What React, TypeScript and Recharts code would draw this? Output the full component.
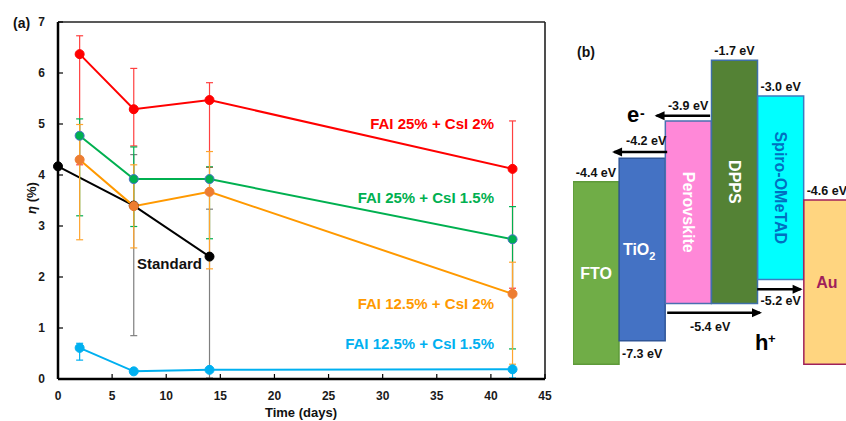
import React from 'react'
import {
  LineChart, Line, XAxis, YAxis, ErrorBar, ReferenceLine,
  BarChart, Bar, Cell, LabelList,
} from 'recharts'

// (a) efficiency vs storage time
const days = [2, 7, 14, 42]
const stdDays = [0, 7, 14]
const xTicks = [0, 5, 10, 15, 20, 25, 30, 35, 40, 45]
const yTicks = [0, 1, 2, 3, 4, 5, 6, 7]

const fai25cs2 = [6.37, 5.29, 5.47, 4.12]
const fai25cs2Low = [4.2, 4.57, 4.15, 1.78]
const fai25cs2High = [6.73, 6.09, 5.81, 5.06]

const fai25cs15 = [4.77, 3.92, 3.92, 2.74]
const fai25cs15Low = [3.2, 2.99, 2.75, 0.59]
const fai25cs15High = [5.1, 4.55, 4.16, 3.38]

const fai125cs2 = [4.3, 3.39, 3.67, 1.67]
const fai125cs2Low = [2.73, 2.57, 2.16, 0.29]
const fai125cs2High = [4.99, 4.2, 4.46, 2.29]

const fai125cs15 = [0.61, 0.15, 0.18, 0.19]
const fai125cs15Low = [0.37, 0.15, 0.18, 0.02]
const fai125cs15High = [0.7, 0.15, 0.18, 0.19]

const standard = [4.17, 3.4, 2.4]
const standardLow = [4.17, 0.85, 0.02]
const standardHigh = [4.17, 4.4, 3.33]

// (b) energy levels; blocks are drawn schematically, not to scale
const layers = ['FTO', 'TiO₂', 'Perovskite', 'DPPS', 'Spiro-OMeTAD', 'Au']
const upperLabels = ['-4.4 eV', '', '', '-1.7 eV', '-3.0 eV', '-4.6 eV']
const lowerLabels = ['', '-7.3 eV', '', '', '', '']
const blockTop = [3.87, 4.33, 5.06, 6.25, 5.55, 3.51]
const blockBottom = [0.29, 0.75, 1.48, 1.48, 1.95, 0.29]

// charge-transfer arrows, in block units across / drawn level
const electronArrows = [
  { from: 2.97, to: 1.81, level: 5.16, text: '-3.9 eV' },
  { from: 2.04, to: 0.89, level: 4.45, text: '-4.2 eV' },
]
const holeArrows = [
  { from: 2.04, to: 4.05, level: 1.3, text: '-5.4 eV' },
  { from: 3.99, to: 4.93, level: 1.76, text: '-5.2 eV' },
]

const FONT = '"Liberation Sans", Arial, sans-serif'

const makeSeries = (xs: number[], ys: number[], lo: number[], hi: number[]) =>
  xs.map((d, i) => ({ day: d, eta: ys[i], err: [ys[i] - lo[i], hi[i] - ys[i]] }))

const series = [
  { key: 'r', data: makeSeries(days, fai25cs2, fai25cs2Low, fai25cs2High), color: '#FF0000', err: '#FF4040', dot: '#FF0000', dotStroke: '#FF0000' },
  { key: 'k', data: makeSeries(stdDays, standard, standardLow, standardHigh), color: '#000000', err: '#7F7F7F', dot: '#000000', dotStroke: '#000000' },
  { key: 'g', data: makeSeries(days, fai25cs15, fai25cs15Low, fai25cs15High), color: '#00B050', err: '#00B050', dot: '#00B050', dotStroke: '#4472C4' },
  { key: 'o', data: makeSeries(days, fai125cs2, fai125cs2Low, fai125cs2High), color: '#FF9900', err: '#FFA52E', dot: '#ED7D31', dotStroke: '#ED7D31' },
  { key: 'c', data: makeSeries(days, fai125cs15, fai125cs15Low, fai125cs15High), color: '#00B0F0', err: '#00B0F0', dot: '#00B0F0', dotStroke: '#00B0F0' },
]

const bandData = layers.map((name, i) => ({
  name,
  range: [blockBottom[i], blockTop[i]],
  upper: upperLabels[i],
  lower: lowerLabels[i],
}))

const arrows = [...electronArrows, ...holeArrows].map((a) => ({
  ...a,
  points: [{ x: a.from, y: a.level, text: a.text }, { x: a.to, y: a.level, text: '' }],
}))
// where each arrow label sits relative to the arrow start: px across, px down to baseline
const arrowLabelShift: Record<string, [number, number]> = {
  '-3.9 eV': [-22, -6.2],
  '-4.2 eV': [-21, -6.8],
  '-5.4 eV': [43, 18.5],
  '-5.2 eV': [23.5, 15.5],
}

const blockFill = ['#70AD47', '#4472C4', '#FF88D8', '#548235', '#00FFFF', '#FFD580']
const blockStroke = ['#5E9A3A', '#2F5597', '#4A6FB0', '#3F6FA8', '#3C7BC0', '#A0205A']
const nameColor: Record<string, string> = { 'Spiro-OMeTAD': '#0070C0', Au: '#A01E5A' }
const verticalNames = ['Perovskite', 'DPPS', 'Spiro-OMeTAD']

const tickStyle = { fontSize: 12, fontWeight: 700, fill: '#1a1a1a' }
const labelStyle = { fontSize: 12.5, fontWeight: 700, fill: '#111' }

const NameLabel = (p: any) => {
  const vb = p.viewBox || p
  const cx = vb.x + vb.width / 2
  const cy = vb.y + vb.height / 2
  const name = String(p.value)
  const fill = nameColor[name] || '#FFFFFF'
  if (verticalNames.includes(name)) {
    return (
      <text x={cx} y={cy} dy="0.36em" textAnchor="middle" transform={`rotate(90 ${cx} ${cy})`}
        fontSize={16} fontWeight={700} fill={fill}>{name}</text>
    )
  }
  if (name === 'TiO₂') {
    return (
      <text x={cx - 3} y={cy} dy="0.36em" textAnchor="middle" fontSize={16} fontWeight={700} fill={fill}>
        TiO<tspan fontSize={11} dy={5}>2</tspan>
      </text>
    )
  }
  return (
    <text x={cx} y={cy} dy="0.36em" textAnchor="middle" fontSize={16} fontWeight={700} fill={fill}>{name}</text>
  )
}

const UpperLabel = (p: any) => {
  const vb = p.viewBox || p
  if (!p.value) return null
  return <text x={vb.x + vb.width / 2} y={vb.y - 5} textAnchor="middle" {...labelStyle}>{p.value}</text>
}

const LowerLabel = (p: any) => {
  const vb = p.viewBox || p
  if (!p.value) return null
  return <text x={vb.x + vb.width / 2} y={vb.y + vb.height + 17.5} textAnchor="middle" {...labelStyle}>{p.value}</text>
}

const ArrowLabel = (p: any) => {
  const vb = p.viewBox || p
  if (!p.value) return null
  const [dx, dy] = arrowLabelShift[p.value] || [0, 16]
  return <text x={vb.x + dx} y={vb.y + dy} textAnchor="middle" {...labelStyle}>{p.value}</text>
}

const arrowHead = (dir: number) => (p: any) => {
  const { cx, cy, index } = p
  if (index !== 1) return <g key={'d' + index} />
  const tip = cx + dir * 2
  const base = cx - dir * 8
  return <polygon key={'d' + index} points={`${tip},${cy} ${base},${cy - 4.5} ${base},${cy + 4.5}`} fill="#000" />
}

export default function App() {
  return (
    <div style={{ position: 'fixed', left: 0, top: 0, width: 846, height: 421, overflow: 'hidden', fontFamily: FONT, background: '#fff' }}>
      <div style={{ position: 'absolute', left: 0, top: 0 }}>
        <LineChart width={560} height={421} margin={{ top: 22, right: 15, left: 0, bottom: 12 }}>
          <XAxis type="number" dataKey="day" domain={[0, 45]} ticks={xTicks} height={30}
            tickSize={-5} tickMargin={17} tick={tickStyle}
            axisLine={{ stroke: '#000', strokeWidth: 2.5 }} tickLine={{ stroke: '#000', strokeWidth: 1.2 }} />
          <YAxis type="number" domain={[0, 7]} ticks={yTicks} width={58}
            tickSize={-5} tickMargin={18} tick={tickStyle}
            axisLine={{ stroke: '#000', strokeWidth: 2.5 }} tickLine={{ stroke: '#000', strokeWidth: 1.2 }} />
          <ReferenceLine y={7} stroke="#222" strokeWidth={1.6} />
          <ReferenceLine x={45} stroke="#222" strokeWidth={1.6} />
          {series.map((s) => (
            <Line key={s.key} data={s.data} dataKey="eta" type="linear" stroke={s.color} strokeWidth={2}
              dot={{ r: 4.5, fill: s.dot, stroke: s.dotStroke, strokeWidth: 1 }} activeDot={false}
              isAnimationActive={false}>
              <ErrorBar dataKey="err" direction="y" width={3.5} stroke={s.err} strokeWidth={1.2} />
            </Line>
          ))}
        </LineChart>
      </div>

      <div style={{ position: 'absolute', left: 573, top: 0, width: 277 }}>
        <BarChart width={277} height={421} data={bandData} margin={{ top: 22, right: 0, left: 0, bottom: 42 }}
          barCategoryGap={0} barGap={0}>
          <XAxis dataKey="name" hide />
          <YAxis type="number" domain={[0, 7]} allowDataOverflow hide />
          <Bar dataKey="range" isAnimationActive={false} strokeWidth={1.5}>
            {bandData.map((d, i) => (
              <Cell key={d.name} fill={blockFill[i]} stroke={blockStroke[i]} />
            ))}
            <LabelList dataKey="name" content={NameLabel} />
            <LabelList dataKey="upper" content={UpperLabel} />
            <LabelList dataKey="lower" content={LowerLabel} />
          </Bar>
        </BarChart>
      </div>

      <div style={{ position: 'absolute', left: 573, top: 0, width: 277 }}>
        <LineChart width={277} height={421} margin={{ top: 22, right: 0, left: 0, bottom: 42 }}>
          <XAxis type="number" dataKey="x" domain={[0, 6]} allowDataOverflow hide />
          <YAxis type="number" domain={[0, 7]} allowDataOverflow hide />
          {arrows.map((a, i) => (
            <Line key={'a' + i} data={a.points} dataKey="y" type="linear" stroke="#000" strokeWidth={2.5}
              dot={arrowHead(Math.sign(a.to - a.from))} activeDot={false} isAnimationActive={false}>
              <LabelList dataKey="text" content={ArrowLabel} />
            </Line>
          ))}
        </LineChart>
      </div>

      <svg width={846} height={421} style={{ position: 'absolute', left: 0, top: 0, pointerEvents: 'none' }}
        fontFamily={FONT} fontWeight={700}>
        <text x={13} y={27.7} fontSize={14} fill="#111">(a)</text>
        <text x={494} y={129} fontSize={15} fill="#FF0000" textAnchor="end">FAI 25% + CsI 2%</text>
        <text x={494} y={203} fontSize={15} fill="#00B050" textAnchor="end">FAI 25% + CsI 1.5%</text>
        <text x={494} y={309.4} fontSize={15} fill="#FF9900" textAnchor="end">FAI 12.5% + CsI 2%</text>
        <text x={494} y={349.4} fontSize={15} fill="#00B0F0" textAnchor="end">FAI 12.5% + CsI 1.5%</text>
        <text x={137} y={268.7} fontSize={15} fill="#111">Standard</text>
        <text x={301} y={417} fontSize={13} fill="#111" textAnchor="middle">Time (days)</text>
        <text x={36} y={198} fontSize={13} fill="#111" textAnchor="middle" transform="rotate(-90 36 198)">
          <tspan fontStyle="italic">η</tspan> (%)
        </text>
        <text x={577} y={56.7} fontSize={14} fill="#111">(b)</text>
        <text x={627} y={122.4} fontSize={22} fill="#000">e</text>
        <text x={640} y={118.3} fontSize={14} fill="#000">-</text>
        <text x={755} y={350} fontSize={22} fill="#000">h</text>
        <text x={768} y={342.8} fontSize={13} fill="#000">+</text>
      </svg>
    </div>
  )
}
